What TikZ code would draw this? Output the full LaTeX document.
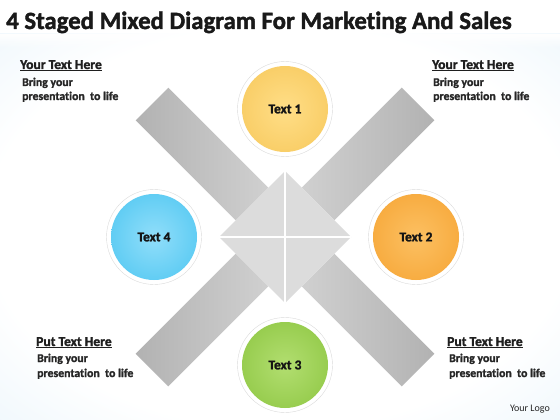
\documentclass[tikz,border=0pt]{standalone}
\usepackage{fontspec}
\setmainfont{Carlito}[BoldFeatures={FakeBold=1.6}, Ligatures=CommonOff]
\usetikzlibrary{fadings}
\definecolor{bgA}{RGB}{220,238,249}
\definecolor{bgB}{RGB}{198,226,245}
\definecolor{armD}{RGB}{178,178,178}
\definecolor{armL}{RGB}{208,208,208}
\definecolor{headc}{RGB}{220,220,220}
\definecolor{y1}{RGB}{255,222,135}\definecolor{y2}{RGB}{246,198,88}\definecolor{y3}{RGB}{252,216,122}\definecolor{y4}{RGB}{226,166,45}
\definecolor{o1}{RGB}{252,192,98}\definecolor{o2}{RGB}{245,162,48}\definecolor{o3}{RGB}{250,186,88}\definecolor{o4}{RGB}{228,134,22}
\definecolor{g1}{RGB}{178,222,112}\definecolor{g2}{RGB}{138,196,62}\definecolor{g3}{RGB}{168,216,102}\definecolor{g4}{RGB}{104,168,36}
\definecolor{b1}{RGB}{145,222,250}\definecolor{b2}{RGB}{72,196,240}\definecolor{b3}{RGB}{128,216,248}\definecolor{b4}{RGB}{30,160,220}
\pgfdeclareradialshading{bgshade}{\pgfpoint{0bp}{0bp}}{color(0bp)=(white); color(26bp)=(white); color(50bp)=(bgA); color(71bp)=(bgB)}
\pgfdeclareradialshading{yelS}{\pgfpoint{0bp}{0bp}}{color(0bp)=(y1); color(38bp)=(y2); color(43bp)=(y3); color(46bp)=(y2); color(50bp)=(y4)}
\pgfdeclareradialshading{oraS}{\pgfpoint{0bp}{0bp}}{color(0bp)=(o1); color(38bp)=(o2); color(43bp)=(o3); color(46bp)=(o2); color(50bp)=(o4)}
\pgfdeclareradialshading{greS}{\pgfpoint{0bp}{0bp}}{color(0bp)=(g1); color(38bp)=(g2); color(43bp)=(g3); color(46bp)=(g2); color(50bp)=(g4)}
\pgfdeclareradialshading{bluS}{\pgfpoint{0bp}{0bp}}{color(0bp)=(b1); color(38bp)=(b2); color(43bp)=(b3); color(46bp)=(b2); color(50bp)=(b4)}
\begin{document}
\begin{tikzpicture}[x=1pt,y=-1pt,
  ring/.style={circle, minimum size=95pt, inner sep=0pt, draw=black!14, fill=white},
  lbl/.style={inner sep=0pt, font=\bfseries\fontsize{13.5}{15}\selectfont, text=black!92},
  headtxt/.style={anchor=base west, inner sep=0pt, font=\bfseries\fontsize{13.6}{14}\selectfont, text=black!88},
  bodytxt/.style={anchor=base west, inner sep=0pt, font=\bfseries\fontsize{11.8}{14}\selectfont, text=black!85}]
\useasboundingbox (0,0) rectangle (560,420);
\fill[white] (0,0) rectangle (560,420);
\shade[shading=bgshade] (0,34) rectangle (560,420);
\fill[white, path fading=south] (0,34) rectangle (560,48);
% title
\node[anchor=base west, inner sep=0pt, font=\bfseries\fontsize{24.8}{30}\selectfont, text=black!90] (title) at (6,29) {4 Staged Mixed Diagram For Marketing And Sales};
% arms
\begin{scope}[shift={(285,237)}]
\foreach \sx/\sy/\lc/\rc in {-1/-1/armD/armL, 1/-1/armL/armD, -1/1/armD/armL, 1/1/armL/armD}{
  \shade[left color=\lc, right color=\rc] (\sx*16.7,\sy*49.3) -- (\sx*49.3,\sy*16.7) -- (\sx*149.3,\sy*116.7) -- (\sx*116.7,\sy*149.3) -- cycle;
}
\foreach \sx/\sy in {-1/-1, 1/-1, -1/1, 1/1}{
  \fill[headc] (0,0) -- (\sx*66,0) -- (0,\sy*66) -- cycle;
}
\draw[white, line width=1.3pt] (0,-66) -- (0,66);
\draw[white, line width=1.3pt] (-66,0) -- (66,0);
\end{scope}
% circles
\node[ring] (r1) at (285,109) {};
\shade[shading=yelS] (r1.center) circle (43);
\node[lbl] (t1) at (r1.center) {Text 1};
\node[ring] (r2) at (416,237) {};
\shade[shading=oraS] (r2.center) circle (43);
\node[lbl] (t2) at (r2.center) {Text 2};
\node[ring] (r3) at (285,365) {};
\shade[shading=greS] (r3.center) circle (43);
\node[lbl] (t3) at (r3.center) {Text 3};
\node[ring] (r4) at (154,237) {};
\shade[shading=bluS] (r4.center) circle (43);
\node[lbl] (t4) at (r4.center) {Text 4};
% corner texts
\node[headtxt] (h1) at (20,69) {\underline{Your Text Here}};
\node[bodytxt] (b1a) at (22,86) {Bring your};
\node[bodytxt] (b1b) at (22,100) {presentation\ \ to life};
\node[headtxt] (h2) at (432,69) {\underline{Your Text Here}};
\node[bodytxt] (b2a) at (433,86) {Bring your};
\node[bodytxt] (b2b) at (433,100) {presentation\ \ to life};
\node[headtxt] (h3) at (36,346) {\underline{Put Text Here}};
\node[bodytxt] (b3a) at (37,362) {Bring your};
\node[bodytxt] (b3b) at (37,377) {presentation\ \ to life};
\node[headtxt] (h4) at (447,346) {\underline{Put Text Here}};
\node[bodytxt] (b4a) at (449,362) {Bring your};
\node[bodytxt] (b4b) at (449,377) {presentation\ \ to life};
\node[anchor=base east, inner sep=0pt, font=\fontsize{10}{12}\selectfont, text=black!85] (logo) at (550,411) {Your Logo};
\end{tikzpicture}
\end{document}
